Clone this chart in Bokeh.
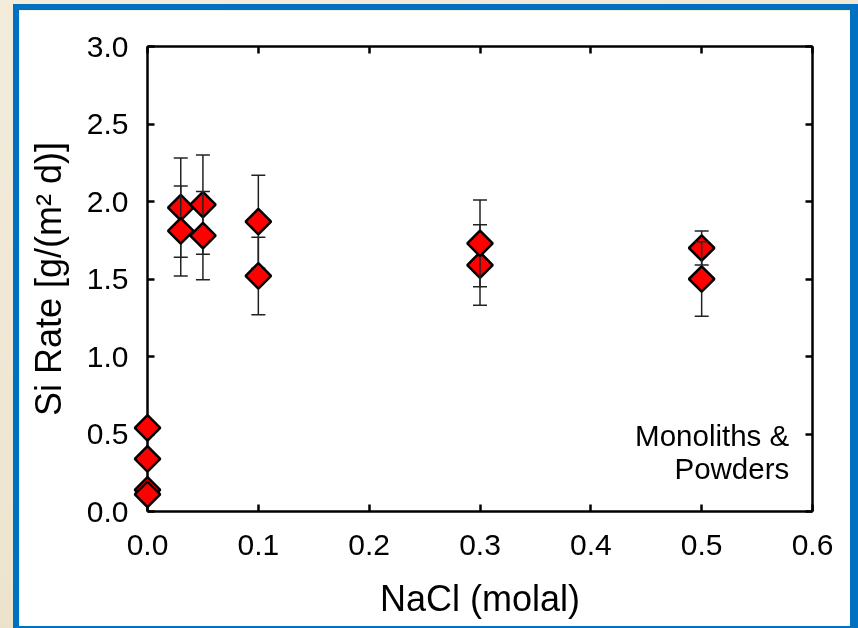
import math
from bokeh.plotting import figure
from bokeh.models import (Range1d, LinearAxis, FixedTicker, PrintfTickFormatter, Label,
                          ColumnDataSource, GlobalInlineStyleSheet)
from bokeh.embed import file_html
from bokeh.resources import INLINE

# ---------------- data ----------------
x_zero = [0.0, 0.0, 0.0, 0.0]
y_zero = [0.54, 0.34, 0.14, 0.11]

x_s1 = [0.03, 0.05, 0.1, 0.3, 0.5]
y_s1 = [1.96, 1.98, 1.87, 1.59, 1.70]
e_s1 = [0.32, 0.32, 0.30, 0.26, 0.11]

x_s2 = [0.03, 0.05, 0.1, 0.3, 0.5]
y_s2 = [1.81, 1.78, 1.52, 1.73, 1.50]
e_s2 = [0.29, 0.285, 0.25, 0.28, 0.24]

x_ticks = [0.0, 0.1, 0.2, 0.3, 0.4, 0.5, 0.6]
y_ticks = [0.0, 0.5, 1.0, 1.5, 2.0, 2.5, 3.0]
x_label = "NaCl (molal)"
y_label = "Si Rate [g/(m\u00b2 d)]"
note_lines = ["Monoliths &", "Powders"]

FONT = "Liberation Sans"

p = figure(width=831, height=616,
           x_range=Range1d(0, 0.6), y_range=Range1d(0, 3),
           output_backend="svg", toolbar_location=None,
           x_axis_location=None, y_axis_location=None,
           min_border_left=128, min_border_right=38,
           min_border_top=36, min_border_bottom=115,
           background_fill_color="white", border_fill_color="white",
           outline_line_color=None)
p.xgrid.visible = False
p.ygrid.visible = False


def style_axis(ax, show_labels=True):
    ax.axis_line_width = 2.5
    ax.axis_line_color = "black"
    ax.major_tick_line_width = 2.5
    ax.major_tick_line_color = "black"
    ax.major_tick_in = 7
    ax.major_tick_out = 0
    ax.minor_tick_line_color = None
    ax.major_label_text_font = FONT
    ax.major_label_text_font_size = "30px"
    ax.major_label_text_color = "black" if show_labels else None
    ax.axis_label_text_font = FONT
    ax.axis_label_text_font_size = "36px"
    ax.axis_label_text_font_style = "normal"
    ax.axis_label_text_color = "black"


left = LinearAxis(ticker=FixedTicker(ticks=y_ticks),
                  formatter=PrintfTickFormatter(format="%.1f"), axis_label=y_label)
style_axis(left)
left.major_label_standoff = 19
left.axis_label_standoff = 15
p.add_layout(left, "left")

bottom = LinearAxis(ticker=FixedTicker(ticks=x_ticks),
                    formatter=PrintfTickFormatter(format="%.1f"), axis_label=x_label)
style_axis(bottom)
bottom.major_label_standoff = 23
bottom.axis_label_standoff = 20
p.add_layout(bottom, "below")

top = LinearAxis(ticker=FixedTicker(ticks=x_ticks))
style_axis(top, show_labels=False)
p.add_layout(top, "above")

right = LinearAxis(ticker=FixedTicker(ticks=y_ticks))
style_axis(right, show_labels=False)
p.add_layout(right, "right")

BAR = "#222222"


def draw_series(xs, ys, es):
    lo = [y - e for y, e in zip(ys, es)]
    hi = [y + e for y, e in zip(ys, es)]
    src = ColumnDataSource(dict(x=xs, y=ys, lo=lo, hi=hi))
    p.segment(x0="x", y0="lo", x1="x", y1="hi", source=src, line_color=BAR, line_width=1.5)
    p.scatter(x="x", y="lo", source=src, marker="dash", size=14, line_color=BAR, line_width=1.5)
    p.scatter(x="x", y="hi", source=src, marker="dash", size=14, line_color=BAR, line_width=1.5)
    p.scatter(x="x", y="y", source=src, marker="square", angle=math.pi / 4, size=18,
              fill_color="#ff0000", line_color="black", line_width=2.5)


draw_series(x_s1, y_s1, e_s1)
draw_series(x_s2, y_s2, e_s2)

p.scatter(x=x_zero, y=y_zero, marker="square", angle=math.pi / 4, size=18,
          fill_color="#ff0000", line_color="black", line_width=2.5, level="overlay")

p.add_layout(Label(x=0.579, y=0.49, text=note_lines[0], text_align="right",
                   text_baseline="alphabetic", text_font=FONT, text_font_size="29.5px",
                   text_color="black"))
p.add_layout(Label(x=0.579, y=0.28, text=note_lines[1], text_align="right",
                   text_baseline="alphabetic", text_font=FONT, text_font_size="29.5px",
                   text_color="black"))

p.styles = {"position": "fixed", "left": "19px", "top": "10px",
            "box-shadow": "0px 0px 0px 6px #0070c0, 2px 0px 0px 6px #0070c0"}
p.stylesheets = [GlobalInlineStyleSheet(
    css="html, body { background: linear-gradient(160deg, #f3ecdb 0%, #eee5cf 60%, #e3d6b4 100%); "
        "background-color: #efe6cf; overflow: hidden; }")]

open("out.html", "w").write(file_html(p, INLINE))
